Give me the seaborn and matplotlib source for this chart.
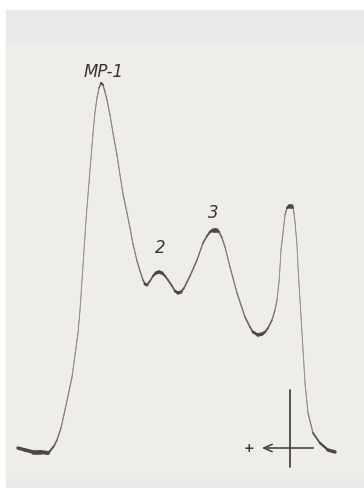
import numpy as np
import pandas as pd
import matplotlib.pyplot as plt
import seaborn as sns
from matplotlib.collections import LineCollection
from matplotlib.patches import Rectangle

# densitometer trace (x = position, y = optical density in px units)
trace_x = [18, 25, 33, 40, 48, 50, 54, 57, 61, 65, 72, 78, 80, 82.7, 86, 88, 90, 92.7, 95,
           97, 99, 101, 103, 105, 107, 110, 113, 117, 120, 123, 127, 130, 133, 137, 140,
           143, 145, 147, 150, 153, 156, 159, 162, 165, 168, 172, 175, 178, 181, 184, 187,
           190, 197, 203, 207, 210, 213, 216, 219, 222, 225, 230, 237, 245, 250, 253, 258,
           262, 265, 268, 272, 275, 277, 279, 280, 281, 283, 285, 287, 289, 291, 293, 294,
           295, 297, 298, 300, 302, 305, 308, 313, 320, 328, 335]
trace_y = [448, 450, 452, 452, 453, 451, 446, 440, 428, 410, 377, 333, 310, 270, 220, 195,
           170, 137, 112, 98, 88, 83, 85, 92, 100, 115, 133, 155, 175, 194, 213, 228, 244,
           261, 271, 280, 284, 285, 281, 276, 273, 272, 273, 276, 280, 286, 291, 293, 292,
           288, 282, 276, 260, 243, 236, 232, 230, 230, 232, 238, 247, 267, 293, 317, 327,
           332, 335, 334, 332, 328, 320, 310, 300, 282, 267, 250, 233, 215, 208, 206, 206,
           208, 213, 222, 245, 267, 300, 333, 383, 413, 433, 443, 450, 452]

peak_names = ["MP-1", "2", "3"]
peak_label_x = [104, 160, 213]
peak_label_y = [72, 248, 213]

W, H = 364, 488
df = pd.DataFrame({"x": trace_x, "density": [H - v for v in trace_y]})

sns.set_theme(style="white")
plt.rcParams['font.family'] = ['DejaVu Sans']

fig = plt.figure(figsize=(W / 100, H / 100), dpi=100)
fig.patch.set_facecolor("white")
ax = fig.add_axes([0, 0, 1, 1])
ax.set_xlim(0, W)
ax.set_ylim(0, H)
ax.axis("off")

# scanned page: grey bands above and below the paper
ax.add_patch(Rectangle((6, 0), W - 6, H - 10, color="#e9e9e9", zorder=0))
ax.add_patch(Rectangle((6, H - 478), W - 6, 478 - 43, color="#eeedea", zorder=0))

sns.lineplot(data=df, x="x", y="density", sort=False, estimator=None,
             color="#9a948e", linewidth=0.7, ax=ax, zorder=2)

# pen gets heavier and darker where the trace is flat
pts = df[["x", "density"]].to_numpy(dtype=float)
seg = np.stack([pts[:-1], pts[1:]], axis=1)
slope = np.abs(np.diff(pts[:, 1]) / np.diff(pts[:, 0]))
flat = 1 / (1 + 1.3 * slope)
widths = 0.3 + 3.0 * flat
dark = np.array([0.30, 0.28, 0.27])
light = np.array([0.62, 0.59, 0.56])
cols = [tuple(light + (dark - light) * min(1, f * 2.2)) for f in flat]
lc = LineCollection(seg, linewidths=widths, colors=cols, capstyle="round",
                    joinstyle="round", zorder=3)
ax.add_collection(lc)

for name, lx, ly in zip(peak_names, peak_label_x, peak_label_y):
    ax.text(lx, H - ly, name, fontsize=12, style="italic", color="#3a3533",
            ha="center", va="center", zorder=4)

# electrophoresis direction marker
ax.plot([290, 290], [H - 390, H - 467], color="#4a4543", lw=1.3, zorder=3)
ax.annotate("", xy=(259, H - 448), xytext=(316, H - 448),
            arrowprops=dict(arrowstyle="->,head_length=0.5,head_width=0.22",
                            color="#4a4543", lw=1.2), zorder=3)
ax.text(249, H - 448, "+", fontsize=9, fontweight="bold", color="#3d3836",
        ha="center", va="center", zorder=4)

fig.savefig("out.png", dpi=100, facecolor=fig.get_facecolor())
